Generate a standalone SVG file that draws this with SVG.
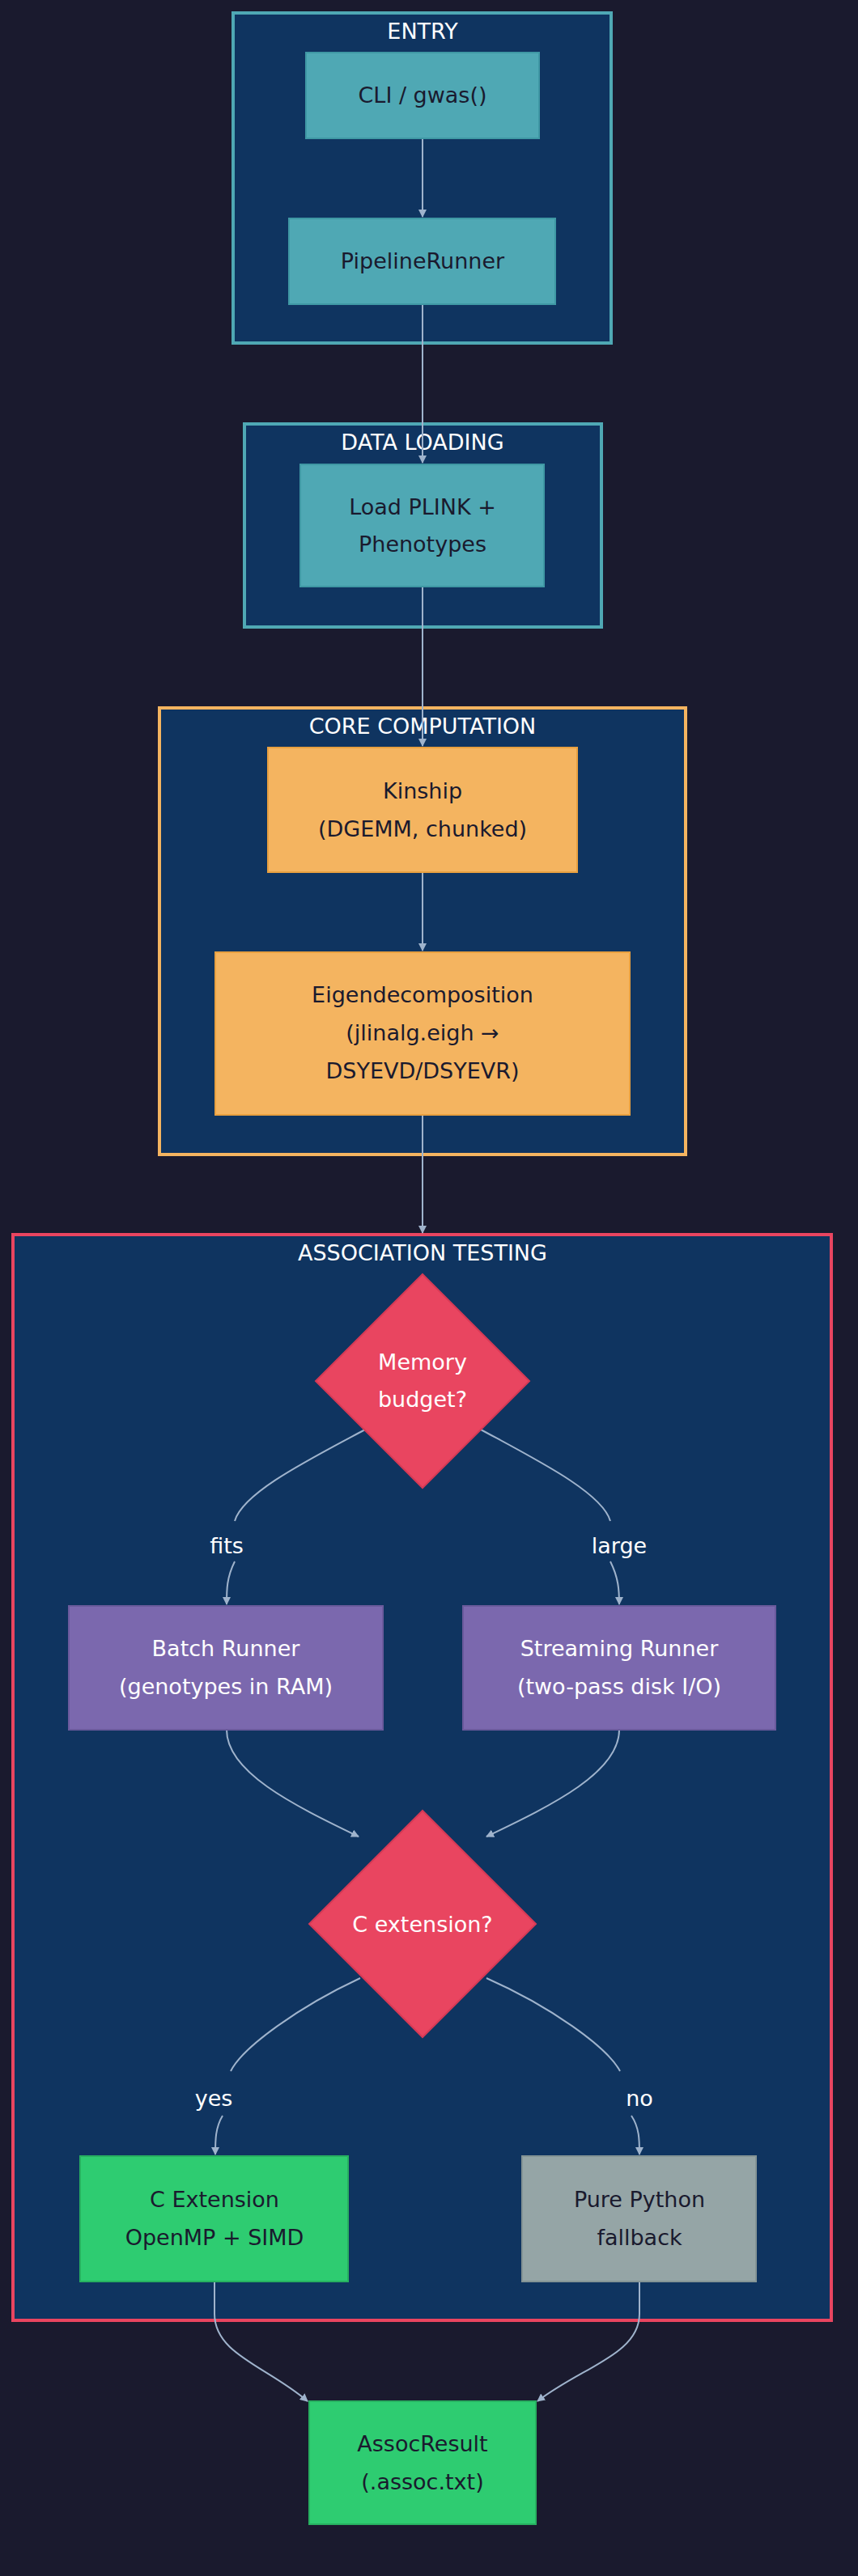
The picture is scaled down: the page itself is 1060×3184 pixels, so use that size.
<svg xmlns="http://www.w3.org/2000/svg" width="1060" height="3184" viewBox="0 0 1060 3184">
<defs>
<marker id="ah" viewBox="0 0 10 10" refX="9" refY="5" markerWidth="5" markerHeight="5" orient="auto"><path d="M0,0 L10,5 L0,10 z" fill="#9fb3cc"/></marker>
<style>
text{font-family:"DejaVu Sans","Liberation Sans",sans-serif;text-anchor:middle}
.cl{fill:#0f3460;stroke-width:4}
.ct{fill:#ffffff;font-size:27px}
.n{font-size:27px;fill:#1a1a2e}
.w{font-size:27px;fill:#ffffff}
.e{fill:none;stroke:#9fb3cc;stroke-width:2;marker-end:url(#ah)}
.lb{font-size:27px;fill:#ffffff}
</style>
</defs>
<rect width="1060" height="3184" fill="#1a1a2e"/>
<g id="clusters">
<rect class="cl" x="288" y="16" width="467" height="408" stroke="#4fa8b4"/>
<text class="ct" x="522" y="48">ENTRY</text>
<rect class="cl" x="302" y="524" width="441" height="251" stroke="#4fa8b4"/>
<text class="ct" x="522" y="556">DATA LOADING</text>
<rect class="cl" x="197" y="875" width="650" height="552" stroke="#f4b460"/>
<text class="ct" x="522" y="907">CORE COMPUTATION</text>
<rect class="cl" x="16" y="1526" width="1011" height="1342" stroke="#e94560"/>
<text class="ct" x="522" y="1558">ASSOCIATION TESTING</text>
</g>
<g id="connectors">
<path class="e" d="M522,171 V268"/>
<path class="e" d="M522,376 V572"/>
<path class="e" d="M522,725 V922"/>
<path class="e" d="M522,1078 V1175"/>
<path class="e" d="M522,1378 V1524"/>
<path class="e" d="M451,1767 C380,1805 300,1845 290,1880 M290,1930 C280,1950 280,1965 280,1983"/>
<path class="e" d="M594,1767 C664,1805 744,1845 754,1880 M754,1930 C764,1950 765,1965 765,1983"/>
<path class="e" d="M280,2138 C280,2190 360,2230 443,2270"/>
<path class="e" d="M765,2138 C765,2190 685,2230 601,2270"/>
<path class="e" d="M445,2445 C370,2480 300,2530 285,2560 M275,2615 C266,2630 266,2645 266,2663"/>
<path class="e" d="M601,2445 C680,2480 750,2530 766,2560 M780,2615 C790,2630 790,2645 790,2663"/>
<path class="e" d="M265,2820 V2860 C265,2910 330,2925 380,2968"/>
<path class="e" d="M790,2820 V2860 C790,2910 720,2925 664,2968"/>
</g>
<g id="edge-labels">
<text class="lb" x="280" y="1920">fits</text>
<text class="lb" x="765" y="1920">large</text>
<text class="lb" x="264" y="2603">yes</text>
<text class="lb" x="790" y="2603">no</text>
</g>
<g id="cli"><rect x="378" y="65" width="288" height="106" fill="#4fa8b4" stroke="#3f98a4" stroke-width="2"/><text class="n" x="522" y="127">CLI / gwas()</text></g>
<g id="runner"><rect x="357" y="270" width="329" height="106" fill="#4fa8b4" stroke="#3f98a4" stroke-width="2"/><text class="n" x="522" y="332">PipelineRunner</text></g>
<g id="load"><rect x="371" y="574" width="301" height="151" fill="#4fa8b4" stroke="#3f98a4" stroke-width="2"/><text class="n" x="522" y="636">Load PLINK +</text><text class="n" x="522" y="682">Phenotypes</text></g>
<g id="kinship"><rect x="331" y="924" width="382" height="154" fill="#f4b460" stroke="#e8a040" stroke-width="2"/><text class="n" x="522" y="987">Kinship</text><text class="n" x="522" y="1034">(DGEMM, chunked)</text></g>
<g id="eigen"><rect x="266" y="1177" width="512" height="201" fill="#f4b460" stroke="#e8a040" stroke-width="2"/><text class="n" x="522" y="1239">Eigendecomposition</text><text class="n" x="522" y="1286">(jlinalg.eigh →</text><text class="n" x="522" y="1333">DSYEVD/DSYEVR)</text></g>
<g id="memory"><polygon points="522,1575 654,1707 522,1839 390,1707" fill="#e94560" stroke="#d63a55" stroke-width="2"/><text class="w" x="522" y="1693">Memory</text><text class="w" x="522" y="1739">budget?</text></g>
<g id="batch"><rect x="85" y="1985" width="388" height="153" fill="#7b68ae" stroke="#6a5a9c" stroke-width="2"/><text class="w" x="279" y="2047">Batch Runner</text><text class="w" x="279" y="2094">(genotypes in RAM)</text></g>
<g id="stream"><rect x="572" y="1985" width="386" height="153" fill="#7b68ae" stroke="#6a5a9c" stroke-width="2"/><text class="w" x="765" y="2047">Streaming Runner</text><text class="w" x="765" y="2094">(two-pass disk I/O)</text></g>
<g id="cext"><polygon points="522,2238 662,2378 522,2518 382,2378" fill="#e94560" stroke="#d63a55" stroke-width="2"/><text class="w" x="522" y="2388">C extension?</text></g>
<g id="cextension"><rect x="99" y="2665" width="331" height="155" fill="#2ecc71" stroke="#27b060" stroke-width="2"/><text class="n" x="265" y="2728">C Extension</text><text class="n" x="265" y="2775">OpenMP + SIMD</text></g>
<g id="python"><rect x="645" y="2665" width="289" height="155" fill="#95a5a6" stroke="#849495" stroke-width="2"/><text class="n" x="790" y="2728">Pure Python</text><text class="n" x="790" y="2775">fallback</text></g>
<g id="result"><rect x="382" y="2968" width="280" height="152" fill="#2ecc71" stroke="#27b060" stroke-width="2"/><text class="n" x="522" y="3030">AssocResult</text><text class="n" x="522" y="3077">(.assoc.txt)</text></g>
</svg>
